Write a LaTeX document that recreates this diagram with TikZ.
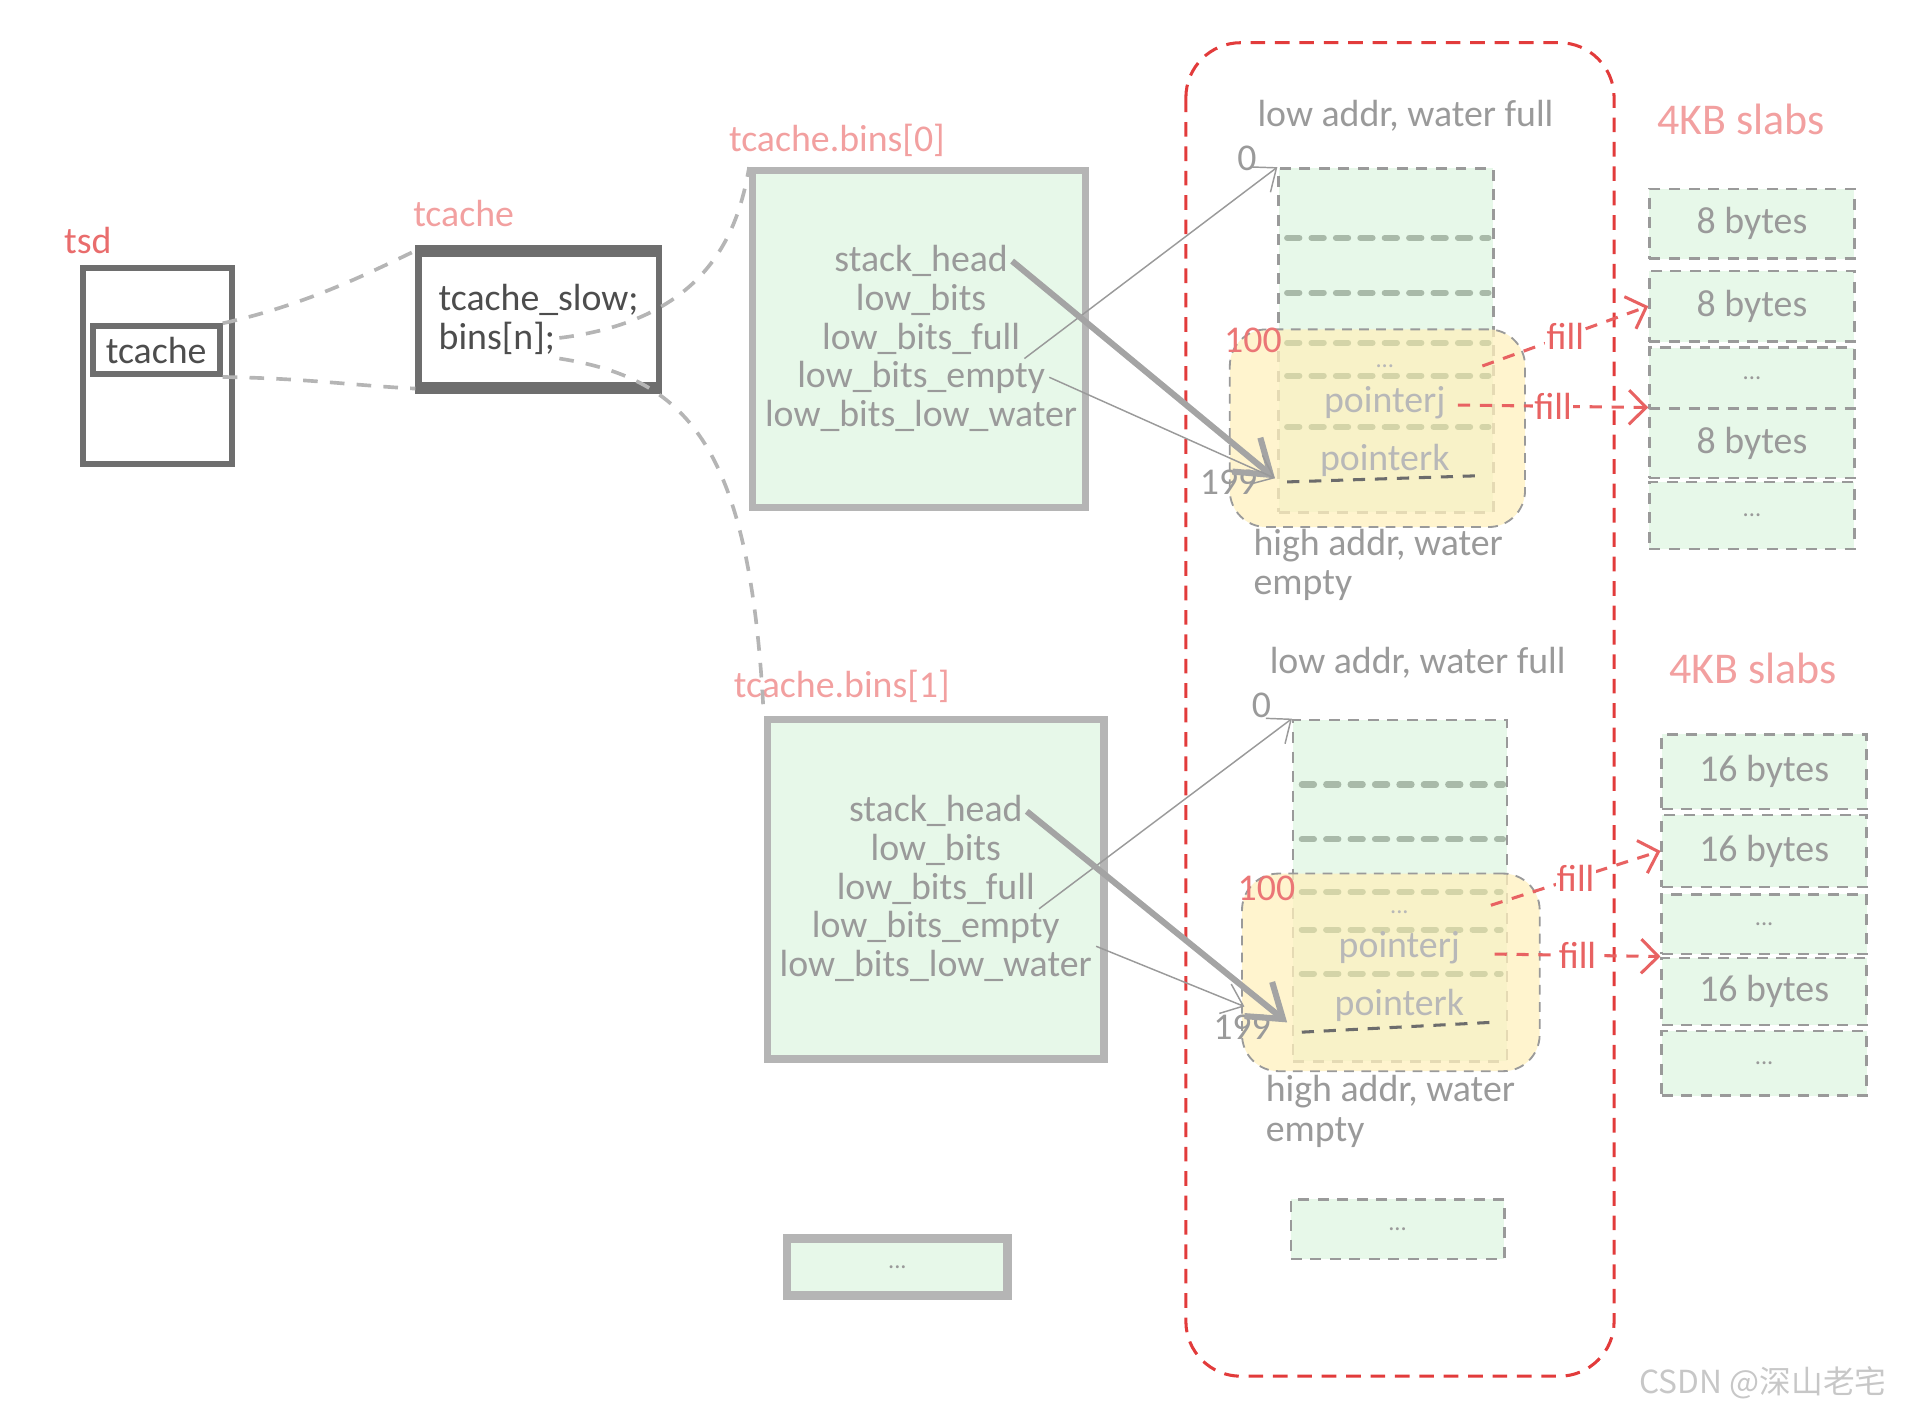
\documentclass[tikz,border=0pt]{standalone}
\usepackage{fontspec}
\setmainfont{Carlito}
\newfontfamily\cjkfont{Noto Sans CJK SC}
\usetikzlibrary{arrows.meta,positioning}
\definecolor{ink}{HTML}{6E6E6E}
\definecolor{rim}{HTML}{B5B5B5}
\definecolor{mint}{HTML}{E7F8E9}
\definecolor{sand}{HTML}{FFF0BE}
\definecolor{rose}{HTML}{F2A0A0}
\definecolor{alert}{HTML}{E23B3B}
\definecolor{mute}{HTML}{9A9A9A}
\definecolor{sage}{HTML}{A9BAA9}
\definecolor{straw}{HTML}{D4D4A8}
\newcommand{\etcdots}{{\fontsize{20}{22}\selectfont...}}

\begin{document}
\begin{tikzpicture}[x=1pt,y=-1pt,
  txt/.style={font=\fontsize{31}{34}\selectfont},
  tag/.style={txt,text=rose},
  field/.style={txt,text=mute},
  darkbox/.style={draw=ink,line width=5pt,inner sep=0pt},
  binbox/.style={draw=rim,fill=mint,line width=6pt,inner sep=0pt},
  slot/.style={draw=mute,fill=mint,line width=2pt,dash pattern=on 9pt off 7pt,inner sep=0pt},
  warm/.style={draw=mute,line width=1.5pt,dash pattern=on 8pt off 6pt,fill=sand,fill opacity=0.75,rounded corners=30pt,inner sep=0pt},
  link/.style={draw=rim,line width=3pt,dash pattern=on 12pt off 10pt},
  slim/.style={draw=mute,line width=1.2pt,-{Straight Barb[length=16pt,width=26pt]}},
  heavy/.style={draw=mute!90,line width=5pt,-{Straight Barb[length=26pt,width=36pt]}},
  fillto/.style={draw=alert!80,line width=2.5pt,dash pattern=on 10pt off 8pt,-{Straight Barb[length=14pt,width=28pt]}},
  seam/.style={line width=5pt,dash pattern=on 10pt off 10pt,line cap=round},
]
\useasboundingbox (0,0) rectangle (1568,1159);

% red frame round the stacks
\draw[alert,line width=2.5pt,dash pattern=on 12pt off 8pt,rounded corners=45pt] (972,35) rectangle (1323,1128);

% tsd
\node[tag,text=alert!75] (tsdlbl) at (72,197) {tsd};
\node[darkbox,minimum width=122pt,minimum height=160pt] (tsd) at (129,300) {};
\node[darkbox,txt,text=ink!70!black,minimum width=104pt,minimum height=39pt] (tsdtc) at (128,287) {tcache};

% tcache
\node[tag] (tclbl) at (380,175) {tcache};
\node[darkbox,minimum width=197pt,minimum height=108pt] (tc) at (441.5,262) {};
\draw[ink,line width=9pt] (tc.north west) -- (tc.north east);
\draw[ink,line width=9pt] (tc.south west) -- (tc.south east);
\node[txt,text=ink!70!black,anchor=west] (tcslow) at (356,246) {tcache\_slow;};
\node[txt,text=ink!70!black,anchor=west] (tcbins) at (356,277) {bins[n];};

% bins
\node[tag] (b0lbl) at (686,115) {tcache.bins[0]};
\node[binbox,minimum width=273pt,minimum height=276pt] (bin0) at (753.5,278) {};
\foreach \f [count=\i] in {stack\_head,low\_bits,low\_bits\_full,low\_bits\_empty,low\_bits\_low\_water}
  \node[field] (b0f\i) at (755,{214+31.75*(\i-1)}) {\f};

\node[tag] (b1lbl) at (690,563) {tcache.bins[1]};
\node[binbox,minimum width=276pt,minimum height=278pt] (bin1) at (767,729) {};
\foreach \f [count=\i] in {stack\_head,low\_bits,low\_bits\_full,low\_bits\_empty,low\_bits\_low\_water}
  \node[field] (b1f\i) at (767,{665+31.75*(\i-1)}) {\f};

\node[binbox,field,line width=7pt,minimum width=181pt,minimum height=47pt] (binmore) at (735.5,1038.5) {\etcdots};

% dashed links
\draw[link] (tsdtc.north east) .. controls (250,250) and (300,225) .. (tc.north west);
\draw[link] (tsdtc.south east) .. controls (250,310) and (290,316) .. (tc.south west);
\draw[link] (tcbins.east) .. controls (580,262) and (605,190) .. (bin0.north west);
\draw[link] (tcbins.south east) .. controls (560,310) and (615,360) .. (bin1.north west);

% first stack
\node[field] (s0top) at (1152,95) {low addr, water full};
\node[slot,minimum width=176pt,minimum height=282pt] (stk0) at (1136,279) {};
\node[warm,minimum width=242pt,minimum height=162pt] (hot0) at (1129,351) {};
\foreach \y in {195,240}
  \draw[seam,sage] (1055,\y) -- (1220,\y);
\foreach \y in {281,308,350}
  \draw[seam,straw] (1055,\y) -- (1220,\y);
\draw[mute!70!black,line width=2.5pt,dash pattern=on 10pt off 8pt] (1055,395) -- (1210,390);
\node[field,text=mute!70] (s0dots) at (1135,300) {\etcdots};
\node[field,text=mute!70] (s0j) at (1135,330) {pointerj};
\node[field,text=mute!70] (s0k) at (1135,377) {pointerk};
\node[txt,text=alert!70] (s0hun) at (1027,279) {100};
\node[field] (s0last) at (1007,395) {199};
\node[field] (s0zero) at (1022,130) {0};
\node[field,anchor=west] (s0bot) at (1024,447) {high addr, water};
\node[field,anchor=west] (s0emp) at (1024,480) {empty};
\coordinate (s0low) at (1045,392);

\draw[slim] (b0f3.south east) -- (stk0.north west);
\draw[heavy] (b0f1.east) -- (s0low);
\draw[slim] (b0f4.east) -- (s0low);

% first slabs
\node[tag,font=\fontsize{36}{40}\selectfont] (slab0lbl) at (1427,98) {4KB slabs};
\foreach \y/\h/\t [count=\i] in {183.5/57/8 bytes,251/58/8 bytes,310/50/\etcdots,363.5/57/8 bytes,422.5/55/\etcdots}
  \node[slot,field,minimum width=168pt,minimum height=\h pt] (slab0\i) at (1436,\y) {\t};

\coordinate (f0a) at (1215,300);
\coordinate (f0b) at (1195,332);
\draw[fillto] (f0a) -- node[txt,text=alert!80,fill=white,inner sep=1pt] (fill0a) {fill} (slab02.west);
\draw[fillto] (f0b) -- node[txt,text=alert!80,fill=white,inner sep=1pt] (fill0b) {fill} (slab04.north west);

% second stack
\node[field] (s1top) at (1162,543) {low addr, water full};
\node[slot,minimum width=175pt,minimum height=280pt] (stk1) at (1147.5,730) {};
\node[warm,minimum width=244pt,minimum height=162pt] (hot1) at (1140,797) {};
\foreach \y in {643,688}
  \draw[seam,sage] (1067,\y) -- (1232,\y);
\foreach \y in {731,762,798}
  \draw[seam,straw] (1067,\y) -- (1230,\y);
\draw[mute!70!black,line width=2.5pt,dash pattern=on 10pt off 8pt] (1067,846) -- (1222,838);
\node[field,text=mute!70] (s1dots) at (1147,748) {\etcdots};
\node[field,text=mute!70] (s1j) at (1147,777) {pointerj};
\node[field,text=mute!70] (s1k) at (1147,824) {pointerk};
\node[txt,text=alert!70] (s1hun) at (1038,728) {100};
\node[field] (s1last) at (1018,842) {199};
\node[field] (s1zero) at (1034,578) {0};
\node[field,anchor=west] (s1bot) at (1034,895) {high addr, water};
\node[field,anchor=west] (s1emp) at (1034,928) {empty};
\coordinate (s1low) at (1055,838);
\coordinate (s1side) at (1020,825);

\draw[slim] (b1f3.south east) -- (stk1.north west);
\draw[heavy] (b1f1.east) -- (s1low);
\draw[slim] (b1f5.north east) -- (s1side);

% second slabs
\node[tag,font=\fontsize{36}{40}\selectfont] (slab1lbl) at (1437,548) {4KB slabs};
\foreach \y/\h/\t [count=\i] in {632.5/61/16 bytes,697.5/59/16 bytes,757.5/49/\etcdots,812.5/55/16 bytes,871.5/53/\etcdots}
  \node[slot,field,minimum width=168pt,minimum height=\h pt] (slab1\i) at (1446,\y) {\t};

\coordinate (f1a) at (1222,742);
\coordinate (f1b) at (1225,782);
\draw[fillto] (f1a) -- node[txt,text=alert!80,fill=white,inner sep=1pt] (fill1a) {fill} (slab12.west);
\draw[fillto] (f1b) -- node[txt,text=alert!80,fill=white,inner sep=1pt] (fill1b) {fill} (slab14.north west);

% more stacks
\node[slot,field,minimum width=175pt,minimum height=49pt] (stkmore) at (1145.5,1007.5) {\etcdots};

\node[text=black!22,font=\cjkfont\fontsize{26}{28}\selectfont] (mark) at (1445,1133) {CSDN @深山老宅};
\end{tikzpicture}
\end{document}
